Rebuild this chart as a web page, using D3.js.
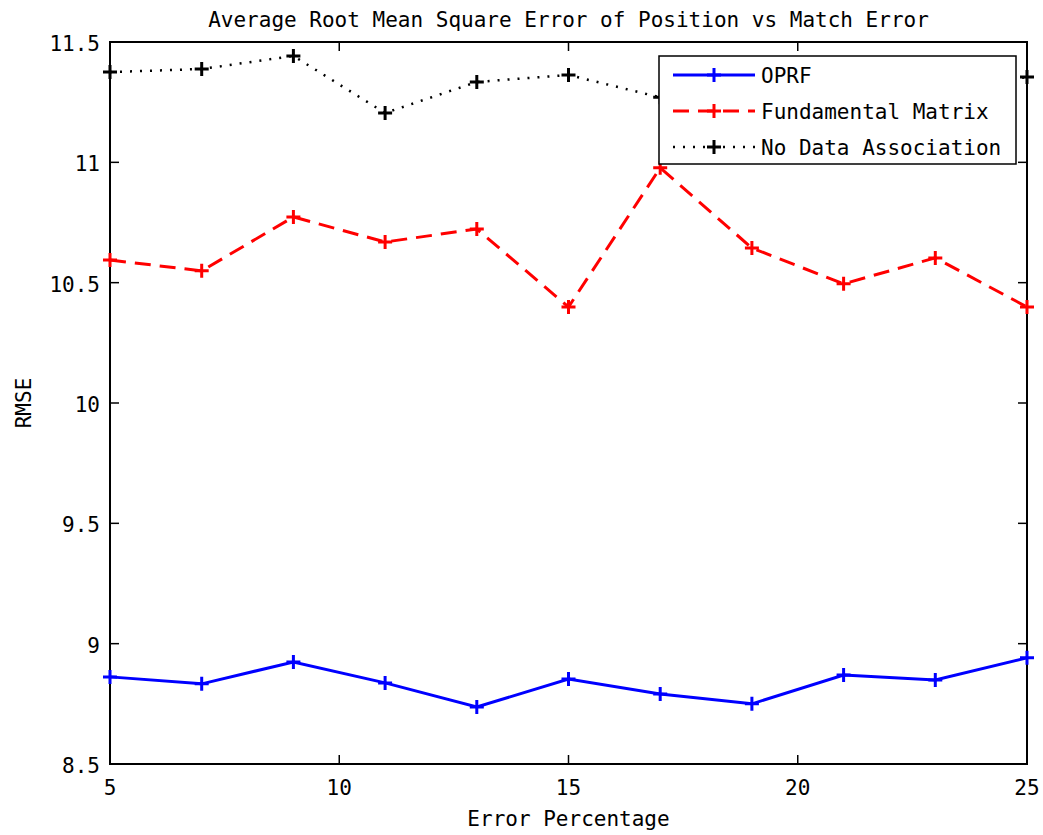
<!DOCTYPE html>
<html>
<head>
<meta charset="utf-8">
<script src="https://cdn.jsdelivr.net/npm/d3@7"></script>
<style>
  body { margin: 0; background: #fff; }
  text { font-family: "DejaVu Sans Mono", monospace; font-size: 21px; fill: #000; }
</style>
</head>
<body>
<div id="container"></div>
<script>
var errorPct = [5, 7, 9, 11, 13, 15, 17, 19, 21, 23, 25];
var oprf = [8.862, 8.833, 8.924, 8.837, 8.737, 8.853, 8.791, 8.750, 8.870, 8.849, 8.941];
var fundamental = [10.594, 10.549, 10.773, 10.669, 10.723, 10.399, 10.977, 10.644, 10.495, 10.603, 10.399];
var noAssoc = [11.375, 11.388, 11.442, 11.205, 11.334, 11.363, 11.27, 11.30, 11.32, 11.28, 11.355];
var seriesNames = ["OPRF", "Fundamental Matrix", "No Data Association"];
var xTicks = [5, 10, 15, 20, 25];
var yTicks = [8.5, 9, 9.5, 10, 10.5, 11, 11.5];

var margin = {top: 42, right: 16, bottom: 71, left: 110},
width = 1043 - margin.left - margin.right,
height = 835 - margin.top - margin.bottom;

var svg = d3.select("#container").append("svg")
.attr("width", 1043)
.attr("height", 835);
var g = svg.append("g")
.attr("transform","translate(" + margin.left + "," + margin.top + ")");

var x = d3.scaleLinear().domain([5, 25]).range([0, width]);
var y = d3.scaleLinear().domain([8.5, 11.5]).range([height, 0]);

var styles = [
  {color: "#0000ff", width: 3, dash: null, data: oprf},
  {color: "#ff0000", width: 3, dash: "16,9", data: fundamental},
  {color: "#000000", width: 2.5, dash: "2,8", data: noAssoc}
];

// frame + inward ticks
g.append("rect").attr("width", width).attr("height", height)
  .attr("fill", "none").attr("stroke", "#000").attr("stroke-width", 2);

var tickLen = 9;
xTicks.forEach(function(t){
  g.append("line").attr("x1", x(t)).attr("x2", x(t)).attr("y1", height).attr("y2", height - tickLen)
    .attr("stroke", "#000").attr("stroke-width", 1.5);
  g.append("line").attr("x1", x(t)).attr("x2", x(t)).attr("y1", 0).attr("y2", tickLen)
    .attr("stroke", "#000").attr("stroke-width", 1.5);
  g.append("text").attr("x", x(t)).attr("y", height + 31).attr("text-anchor", "middle").text(t);
});
yTicks.forEach(function(t){
  g.append("line").attr("x1", 0).attr("x2", tickLen).attr("y1", y(t)).attr("y2", y(t))
    .attr("stroke", "#000").attr("stroke-width", 1.5);
  g.append("line").attr("x1", width).attr("x2", width - tickLen).attr("y1", y(t)).attr("y2", y(t))
    .attr("stroke", "#000").attr("stroke-width", 1.5);
  g.append("text").attr("x", -10).attr("y", y(t) + 9).attr("text-anchor", "end").text(t);
});

// series
var line = d3.line().x(function(d, i){ return x(errorPct[i]); }).y(function(d){ return y(d); });

function plus(sel, cx, cy, color, sz){
  sel.append("path")
    .attr("d", "M" + (cx - sz) + "," + cy + "H" + (cx + sz) + "M" + cx + "," + (cy - sz) + "V" + (cy + sz))
    .attr("stroke", color).attr("stroke-width", 3).attr("fill", "none");
}

styles.forEach(function(s){
  g.append("path").datum(s.data)
    .attr("d", line)
    .attr("fill", "none")
    .attr("stroke", s.color)
    .attr("stroke-width", s.width)
    .attr("stroke-dasharray", s.dash);
  s.data.forEach(function(v, i){
    plus(g, x(errorPct[i]), y(v), s.color, 7);
  });
});

// legend
var lg = svg.append("g").attr("transform", "translate(659,56)");
lg.append("rect").attr("width", 357).attr("height", 108)
  .attr("fill", "#fff").attr("stroke", "#000").attr("stroke-width", 1.5);
styles.forEach(function(s, i){
  var ly = 19 + i * 36;
  lg.append("line").attr("x1", 14).attr("x2", 96).attr("y1", ly).attr("y2", ly)
    .attr("stroke", s.color).attr("stroke-width", s.width)
    .attr("stroke-dasharray", s.dash);
  plus(lg, 55, ly, s.color, 7);
  lg.append("text").attr("x", 102).attr("y", ly + 8).text(seriesNames[i]);
});

// titles
svg.append("text").attr("x", margin.left + width / 2).attr("y", 27)
  .attr("text-anchor", "middle").text("Average Root Mean Square Error of Position vs Match Error");
svg.append("text").attr("x", margin.left + width / 2).attr("y", 826)
  .attr("text-anchor", "middle").text("Error Percentage");
svg.append("text").attr("transform", "translate(31," + (margin.top + height / 2) + ") rotate(-90)")
  .attr("text-anchor", "middle").text("RMSE");
</script>
</body>
</html>
